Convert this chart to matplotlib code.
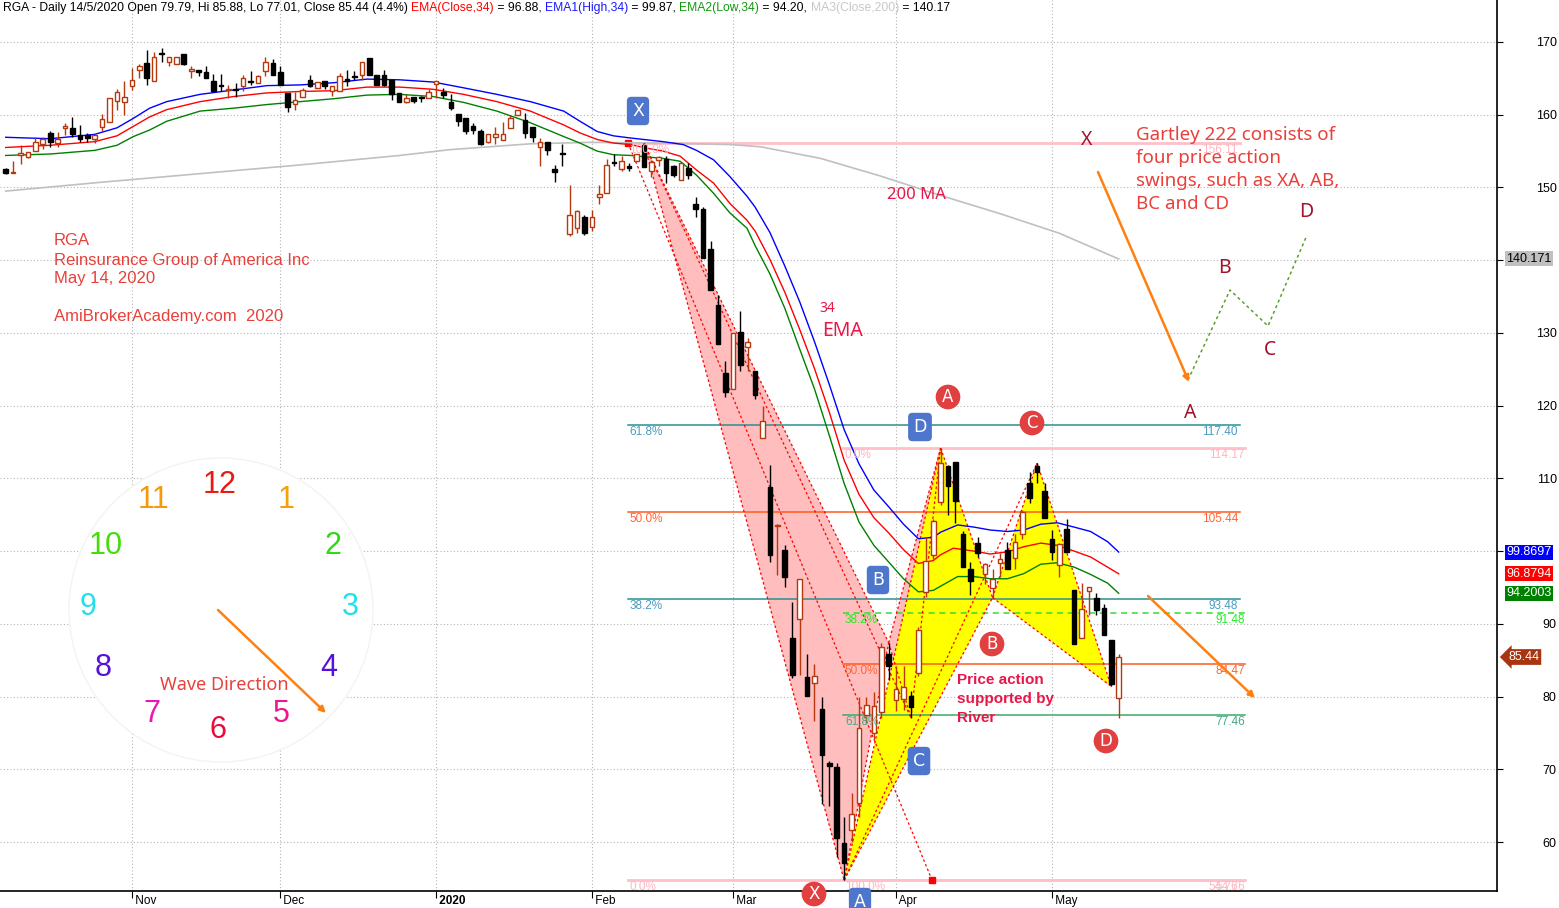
import numpy as np
import pandas as pd
import matplotlib
matplotlib.use("Agg")
import matplotlib.pyplot as plt
from matplotlib import font_manager
from matplotlib.patches import Polygon, Ellipse
from matplotlib.transforms import blended_transform_factory

# ---------------- data ----------------
holidays = ["2019-11-28", "2019-12-25", "2020-01-01", "2020-01-20", "2020-02-17", "2020-04-10"]
dates = pd.bdate_range("2019-10-09", "2020-05-14").drop(pd.to_datetime(holidays))

opens = [152.5, 152.0, 154.4, 154.2, 155.0, 156.0, 157.5, 156.1, 158.2, 158.2,
         157.2, 157.2, 156.7, 158.3, 159.0, 161.9, 161.7, 164.0, 166.2, 167.1,
         164.7, 168.4, 167.2, 167.0, 168.3, 166.0, 166.2, 165.9, 164.7, 164.1,
         163.4, 163.45, 164.0, 164.55, 164.4, 166.0, 167.1, 165.9, 163.0, 161.5,
         162.5, 164.8, 163.7, 164.6, 163.3, 163.3, 164.75, 165.3, 165.5, 167.8,
         165.5, 165.4, 164.8, 163.0, 161.8, 162.5, 162.35, 162.3, 164.2, 163.1,
         161.7, 160.1, 159.5, 158.5, 157.8, 156.3, 157.0, 156.5, 158.2, 159.9,
         159.3, 158.3, 155.6, 156.2, 152.6, 154.65, 143.6, 144.4, 145.9, 144.6,
         148.7, 149.3, 153.45, 152.5, 153.0, 153.6, 155.8, 152.2, 153.8, 153.9,
         153.0, 151.0, 152.7, 147.7, 147.1, 141.6, 133.8, 124.5, 122.3, 130.1,
         128.0, 124.8, 115.5, 108.8, 103.5, 100.2, 88.0, 90.6, 82.7, 81.9,
         78.3, 70.8, 70.3, 59.8, 61.7, 65.3, 77.4, 75.0, 77.9, 85.8,
         79.5, 79.7, 80.1, 83.3, 94.4, 99.4, 106.8, 111.7, 112.2, 102.3,
         97.5, 101.1, 96.9, 94.9, 98.3, 100.2, 99.0, 102.3, 109.3, 111.7,
         108.3, 101.6, 98.1, 103.1, 94.6, 88.1, 94.5, 93.6, 92.2, 87.8, 79.79]
highs = [152.7, 153.7, 155.9, 154.9, 156.9, 156.9, 157.8, 157.6, 158.8, 159.7,
         158.6, 157.5, 157.2, 160.1, 162.3, 163.5, 164.7, 166.4, 167.0, 168.9,
         168.6, 169.2, 167.9, 168.0, 168.3, 166.7, 166.2, 166.7, 165.6, 165.6,
         164.1, 164.3, 165.5, 166.0, 165.5, 167.9, 167.6, 166.7, 163.0, 163.1,
         163.7, 165.4, 164.5, 164.6, 164.0, 165.7, 166.1, 166.0, 167.3, 167.8,
         165.5, 166.2, 164.8, 163.0, 162.8, 162.5, 162.6, 163.6, 164.6, 163.7,
         162.8, 160.1, 159.5, 158.8, 158.1, 157.3, 158.3, 159.0, 160.0, 160.6,
         160.2, 158.3, 156.8, 156.2, 153.1, 156.0, 150.4, 146.9, 146.2, 146.9,
         150.4, 153.9, 154.6, 154.3, 153.4, 154.6, 156.11, 153.8, 154.3, 154.3,
         153.1, 153.3, 153.4, 148.7, 147.3, 142.7, 135.2, 126.2, 130.0, 133.0,
         129.3, 124.8, 119.9, 111.8, 103.7, 100.8, 93.0, 96.2, 85.8, 84.5,
         80.0, 71.2, 70.9, 63.4, 66.7, 80.0, 80.0, 80.6, 87.3, 87.4,
         84.2, 84.2, 80.8, 89.6, 102.0, 104.4, 114.17, 111.8, 112.2, 102.7,
         98.5, 102.0, 98.4, 97.6, 99.7, 101.3, 102.4, 105.6, 110.9, 112.1,
         109.3, 102.9, 101.1, 104.4, 94.7, 95.6, 95.0, 94.2, 92.7, 87.8, 85.88]
lows = [151.9, 152.0, 153.2, 154.0, 155.0, 155.3, 155.5, 155.6, 157.2, 157.0,
        156.3, 156.2, 156.1, 157.8, 159.0, 160.6, 159.9, 163.4, 165.1, 164.1,
        164.7, 167.3, 166.7, 167.0, 166.9, 165.0, 165.3, 165.0, 163.1, 163.2,
        162.3, 162.5, 163.2, 164.1, 164.4, 165.3, 165.4, 164.1, 160.4, 160.6,
        162.4, 163.8, 163.7, 163.5, 162.6, 163.3, 163.9, 164.8, 164.8, 165.5,
        164.1, 164.0, 162.0, 161.7, 161.6, 161.6, 161.8, 162.3, 162.3, 162.3,
        160.6, 158.4, 157.4, 157.4, 155.9, 156.1, 156.0, 156.5, 158.2, 159.9,
        156.8, 156.3, 153.0, 154.5, 150.8, 152.9, 143.3, 143.8, 143.5, 144.0,
        147.7, 149.3, 152.9, 152.2, 152.2, 153.6, 152.8, 151.5, 152.9, 150.6,
        151.5, 151.0, 151.2, 146.0, 140.3, 135.9, 128.5, 121.2, 122.3, 124.8,
        124.8, 120.9, 115.5, 98.5, 96.7, 95.0, 82.5, 83.0, 80.1, 76.7,
        65.2, 65.0, 57.9, 54.76, 60.0, 63.4, 76.3, 74.2, 77.1, 82.3,
        78.0, 78.2, 77.1, 82.8, 93.7, 98.9, 106.3, 105.0, 103.8, 97.8,
        93.9, 99.2, 95.5, 93.6, 96.5, 97.5, 97.5, 101.7, 106.6, 109.3,
        104.6, 98.8, 96.4, 99.9, 87.2, 88.1, 91.2, 91.2, 88.5, 81.4, 77.01]
closes = [152.0, 152.1, 154.7, 154.9, 156.3, 156.7, 156.3, 156.7, 158.5, 157.4,
          156.7, 156.8, 157.2, 159.4, 162.3, 163.1, 162.4, 164.8, 166.7, 165.1,
          167.9, 168.35, 167.9, 168.0, 167.0, 166.3, 165.9, 165.0, 163.2, 163.9,
          163.5, 163.4, 165.0, 164.5, 165.3, 167.2, 165.4, 164.1, 161.1, 162.0,
          163.4, 164.0, 164.5, 164.0, 164.0, 165.3, 164.7, 165.2, 167.3, 165.5,
          164.1, 164.1, 162.8, 161.7, 162.3, 161.9, 162.3, 163.1, 164.6, 162.7,
          160.9, 159.1, 157.8, 157.9, 156.0, 157.3, 157.3, 157.3, 159.5, 160.6,
          157.5, 156.9, 156.2, 155.1, 152.1, 154.6, 146.2, 146.7, 143.8, 145.9,
          149.1, 153.1, 153.4, 153.6, 152.7, 154.6, 152.8, 153.5, 154.2, 152.0,
          151.7, 153.3, 151.7, 147.0, 140.3, 135.9, 128.5, 121.9, 130.0, 125.6,
          128.8, 121.5, 117.9, 99.5, 103.6, 96.5, 83.0, 96.2, 80.1, 82.8,
          71.9, 70.4, 60.5, 57.1, 63.9, 75.7, 78.9, 78.7, 86.8, 84.2,
          81.0, 81.3, 78.5, 89.1, 98.7, 104.1, 112.1, 108.9, 106.9, 97.8,
          95.9, 99.8, 98.2, 96.2, 98.9, 97.6, 101.2, 105.4, 107.3, 110.9,
          104.6, 99.9, 101.0, 99.9, 87.2, 92.0, 95.0, 91.9, 88.5, 81.7, 85.44]

# indicator lines (bar number, value)
ema_high_x = [0, 6, 12, 15, 17.2, 19.4, 21.7, 26.2, 30.7, 35.2, 39.7, 44.2, 48.7, 53.1, 57.6,
              61.7, 66.2, 70.7, 75.2, 77.4, 79.7, 81.9, 84.2, 88.6, 91.3, 93.1, 95.4, 97.6, 99.9,
              101, 103, 105, 107, 109, 111, 113, 115, 117, 119, 121, 123, 125, 126,
              128.3, 130.5, 132.7, 135, 137.2, 139.5, 141.7, 144, 146.2, 148.5, 150]
ema_high_y = [156.9, 156.7, 157.3, 158.2, 159.5, 160.9, 161.8, 162.8, 163.4, 164.0, 164.1, 164.4, 164.9, 164.8, 164.5,
              163.7, 162.8, 161.8, 160.5, 159.1, 157.7, 157.1, 156.8, 156.3, 155.9, 155.1, 153.8, 151.5, 148.8,
              147.3, 143.8, 139.2, 134.3, 128.8, 122.9, 116.7, 112.0, 108.4, 106.1, 103.7, 101.7, 101.9, 102.6,
              103.6, 103.3, 102.9, 102.7, 102.9, 103.7, 103.9, 103.3, 102.7, 101.3, 99.87]
ema_close_x = [0, 6, 12, 15, 17.2, 19.4, 21.7, 26.2, 30.7, 35.2, 39.7, 44.2, 48.7, 53.1, 57.6,
               61.7, 66.2, 70.7, 75.2, 77.4, 79.7, 81.9, 84.2, 86.4, 88.6, 90.9, 93.1, 95.4, 97.6, 99.9,
               101, 103, 105, 107, 109, 111, 113, 115, 117, 119, 121, 123, 125, 126,
               127.7, 130.5, 132.7, 135, 137.2, 139.5, 141.7, 144, 146.2, 148.5, 150]
ema_close_y = [155.5, 155.8, 156.3, 157.1, 158.4, 159.7, 160.7, 161.8, 162.5, 163.0, 163.2, 163.3, 163.8, 163.8, 163.5,
               162.8, 161.8, 160.5, 158.6, 157.5, 156.6, 156.1, 155.9, 155.4, 155.0, 154.3, 152.4, 150.6, 147.8, 145.5,
               144.0, 140.1, 135.6, 130.5, 125.1, 119.1, 112.5, 107.8, 104.6, 102.5, 100.2, 98.3, 98.7, 99.5,
               100.4, 100.0, 99.6, 99.9, 100.6, 101.1, 100.8, 100.0, 99.2, 97.8, 96.88]
ema_low_x = [0, 6, 12, 15, 17.2, 19.4, 21.7, 26.2, 30.7, 35.2, 39.7, 44.2, 48.7, 53.1, 57.6,
             61.7, 66.2, 70.7, 75.2, 77.4, 79.7, 81.9, 84.2, 88.6, 90.9, 93.1, 95.4, 97.6, 99.9,
             101, 103, 105, 107, 109, 111, 113, 115, 117, 119, 121, 123, 125,
             128.3, 130.5, 132.7, 135, 137.2, 139.5, 141.7, 144, 146.2, 148.5, 150]
ema_low_y = [154.4, 154.6, 155.1, 155.8, 157.0, 157.9, 159.1, 160.5, 160.9, 161.4, 161.8, 162.2, 162.7, 162.8, 162.5,
             161.7, 160.5, 158.9, 157.0, 156.1, 155.0, 154.5, 154.4, 154.0, 153.6, 151.7, 149.2, 146.5, 144.4,
             142.0, 138.1, 133.4, 127.8, 122.3, 115.9, 109.3, 104.0, 100.8, 98.5, 96.2, 94.4, 94.6,
             96.5, 96.5, 96.2, 96.2, 96.9, 98.2, 98.4, 97.8, 96.8, 95.6, 94.20]
ma200_x = [0, 12.7, 26.2, 39.7, 53.1, 59.9, 70.7, 78.7, 88.6, 97.6, 101.7, 109.8, 117.8, 126, 134, 142, 150]
ma200_y = [149.5, 150.7, 151.9, 153.1, 154.4, 155.2, 156.0, 156.2, 156.1, 155.9, 155.6, 154.0, 151.6, 148.9, 146.4, 143.7, 140.17]

# harmonic pattern turning points (bar numbers)
bear_bars = [86, 113, 119, 122, 126]     # X A B C D (blue)
bull_bars = [113, 126, 133, 139, 149]    # X A B C D (red)

fib1_levels = [156.11, 117.40, 105.44, 93.48, 54.76]
fib1_pcts = ["100.0%", "61.8%", "50.0%", "38.2%", "0.0%"]
fib2_levels = [114.17, 91.48, 84.47, 77.46, 54.76]
fib2_pcts = ["0.0%", "38.2%", "50.0%", "61.8%", "100.0%"]

# ---------------- figure ----------------
W, H = 1559, 908
names = {f.name for f in font_manager.fontManager.ttflist}
NARROW = "Liberation Sans Narrow" if "Liberation Sans Narrow" in names else "Liberation Sans"
ARIAL = "Liberation Sans"
HAND = "Noto Sans"

fig = plt.figure(figsize=(W / 100, H / 100), dpi=100)
ax = fig.add_axes([0, 17 / H, 1497 / W, 891 / H])
r = fig.canvas.get_renderer()


def px(x, y):
    # reference pixel position -> data position
    return (x - 5.7) / 7.42, 170 - (y - 42) / 7.273


ax.set_xlim(px(0, 0)[0], px(1497, 0)[0])
ax.set_ylim(px(0, 891)[1], px(0, 0)[1])
for s in ("top", "left"):
    ax.spines[s].set_visible(False)
ax.spines["right"].set_linewidth(1.2)
ax.spines["bottom"].set_linewidth(1.2)

# axes ticks
yt = np.arange(60, 171, 10)
ax.yaxis.tick_right()
ax.set_yticks(yt)
ax.set_yticklabels(["" if v in (100, 140) else str(v) for v in yt])  # hidden under the value tags
ax.tick_params(axis="y", length=4, pad=39, labelsize=9)
for t in ax.get_yticklabels():
    t.set_ha("right")
    t.set_family(ARIAL)

months = pd.Series(dates.to_period("M"))
first = np.nonzero(months.ne(months.shift()).to_numpy())[0][1:]
ax.set_xticks(first)
ax.set_xticklabels([" 2020" if dates[i].month == 1 else " " + dates[i].strftime("%b") for i in first])
ax.tick_params(axis="x", length=5, pad=-1.8, labelsize=8.5)
for t in ax.get_xticklabels():
    t.set_ha("left")
    t.set_family(NARROW)
    if t.get_text() == " 2020":
        t.set_fontweight("bold")

ax.set_axisbelow(True)
ax.grid(True, color="#b4b4b4", linestyle=(0, (1, 2)), linewidth=0.8)

# clock face
cx, cy = px(221, 610)
ax.add_patch(Ellipse((cx, cy), 304 / 7.42, 304 / 7.273, fc="white", ec="#f3f3f3", lw=1, zorder=1))

# fibonacci levels
fib1_cols = ["#ffc0cb", "#2b9090", "#ff5a1f", "#2b9090", "#ffc0cb"]
fib1_txt = ["#ffb6c1", "#4a9cc0", "#ff6633", "#4a9cc0", "#ffb6c1"]
fib2_cols = ["#ffc0cb", "#33dd33", "#ff5a1f", "#3aaa6a", "#ffc0cb"]
fib2_txt = ["#ffb6c1", "#22ee22", "#ff6633", "#44aa88", "#ffb6c1"]
fib2_ls = ["-", (0, (4, 3)), "-", "-", "-"]
f1_start, f1_end = px(628, 0)[0], px(1240, 0)[0]
f2_start, f2_end = bear_bars[1] - 0.1, px(1245, 0)[0]
lab_off = 7 / 7.273
for lv, pc, lc, tc in zip(fib1_levels, fib1_pcts, fib1_cols, fib1_txt):
    lw = 2 if lc == "#ffc0cb" else 1.1
    ax.plot([f1_start, f1_end], [lv, lv], color=lc, lw=lw, zorder=2.5)
    ax.text(f1_start + 0.2, lv - lab_off, pc, color=tc, fontsize=8.5, family=ARIAL, va="center", zorder=7)
    ax.text(px(1238, 0)[0], lv - lab_off, f"{lv:.2f}", color=tc, fontsize=8.5, family=ARIAL,
            ha="right", va="center", zorder=7)
for lv, pc, lc, tc, ls in zip(fib2_levels, fib2_pcts, fib2_cols, fib2_txt, fib2_ls):
    lw = 2 if lc == "#ffc0cb" else 1.1
    ax.plot([f2_start, f2_end], [lv, lv], color=lc, lw=lw, ls=ls, zorder=2.5)
    ax.text(f2_start + 0.2, lv - lab_off, pc, color=tc, fontsize=8.5, family=ARIAL, va="center", zorder=7)
    ax.text(px(1245, 0)[0], lv - lab_off, f"{lv:.2f}", color=tc, fontsize=8.5, family=ARIAL,
            ha="right", va="center", zorder=7)

h = np.array(highs)
l = np.array(lows)
bear = [(bear_bars[0], h[bear_bars[0]]), (bear_bars[1], l[bear_bars[1]]), (bear_bars[2], h[bear_bars[2]]),
        (bear_bars[3], l[bear_bars[3]]), (bear_bars[4], h[bear_bars[4]])]
bull = [(bull_bars[0], l[bull_bars[0]]), (bull_bars[1], h[bull_bars[1]]), (bull_bars[2], l[bull_bars[2]]),
        (bull_bars[3], h[bull_bars[3]]), (bull_bars[4], l[bull_bars[4]])]


def draw_pattern(p, fill):
    X, A, B, C, D = p
    ax.add_patch(Polygon([X, A, B], closed=True, fc=fill, ec="none", zorder=2))
    ax.add_patch(Polygon([B, C, D], closed=True, fc=fill, ec="none", zorder=2))
    for a, b in [(X, A), (A, B), (X, B), (B, C), (C, D), (B, D), (X, C)]:
        ax.plot([a[0], b[0]], [a[1], b[1]], color="red", lw=0.9, ls=(0, (2, 2)), zorder=2.6)


draw_pattern(bear, "#ffbdbd")
draw_pattern(bull, "#ffff00")

# projection line with end markers
p0, p1 = px(628, 143), px(932, 880)
ax.plot([p0[0], p1[0]], [p0[1], p1[1]], color="red", lw=0.9, ls=(0, (2, 2)), zorder=2.6)
ax.plot([p0[0], p1[0]], [p0[1], p1[1]], ls="none", marker="s", ms=5, color="red", zorder=3)

# moving averages
ax.plot(ma200_x, ma200_y, color="#c0c0c0", lw=1.2, zorder=3)
ax.plot(ema_high_x, ema_high_y, color="#0000ff", lw=1, zorder=3)
ax.plot(ema_close_x, ema_close_y, color="#ff0000", lw=1, zorder=3)
ax.plot(ema_low_x, ema_low_y, color="#008000", lw=1, zorder=3)

# candles
o = np.array(opens)
c = np.array(closes)
idx = np.arange(len(c))
up = c >= o
UP = "#b5380e"
edge = np.where(up, UP, "black")
ax.vlines(idx, l, h, colors=edge, lw=1, zorder=5)
ax.bar(idx, np.maximum(np.abs(c - o), 0.15), bottom=np.minimum(o, c), width=0.62,
       color=np.where(up, "white", "black"), edgecolor=edge, linewidth=1, zorder=6)

# ---------------- annotations ----------------
RED = "#e8403a"
CRIM = "#e8174a"
for txt, y in [("RGA", 241), ("Reinsurance Group of America Inc", 260), ("May 14, 2020", 279),
               ("AmiBrokerAcademy.com  2020", 317)]:
    ax.text(*px(54, y), txt, color=RED, fontsize=12, family=ARIAL, va="center", zorder=8)

clock = [("12", 220, 485, "#ea1a12"), ("11", 153, 500, "#f59a0a"), ("1", 286, 500, "#f5a00a"),
         ("10", 106, 546, "#44dd0a"), ("2", 333, 546, "#33d818"), ("9", 88, 607, "#20e0e8"),
         ("3", 350, 607, "#20e0e8"), ("8", 103, 668, "#5512d8"), ("4", 329, 668, "#5512d8"),
         ("7", 152, 714, "#ee16b0"), ("5", 281, 714, "#ee1690"), ("6", 218, 730, "#ea0a3a")]
for s, x, y, col in clock:
    ax.text(*px(x, y), s, color=col, fontsize=22, family=ARIAL, ha="center", va="center", zorder=8)
ax.text(*px(224, 685), "Wave Direction", color=RED, fontsize=13, family=HAND, ha="center", va="center", zorder=8)


def arrow(x0, y0, x1, y1, lw=1.8):
    ax.annotate("", xy=px(x1, y1), xytext=px(x0, y0),
                arrowprops=dict(arrowstyle="-|>", color="#ff8010", lw=lw, mutation_scale=9,
                                shrinkA=0, shrinkB=0), zorder=8)


arrow(218, 610, 326, 713)
arrow(1148, 596, 1255, 698)
arrow(1098, 172, 1189, 382)

ax.text(*px(827, 308), "34", color=CRIM, fontsize=10, family=HAND, fontweight="bold", ha="center", va="center", zorder=8)
ax.text(*px(842, 331), "EMA", color=CRIM, fontsize=14, family=HAND, ha="center", va="center", zorder=8)
ax.text(*px(916, 195), "200 MA", color=CRIM, fontsize=12, family=HAND, fontweight="bold", ha="center", va="center", zorder=8)
for txt, y in [("Price action", 680), ("supported by", 699), ("River", 718)]:
    ax.text(*px(957, y), txt, color=CRIM, fontsize=11, family=ARIAL, fontweight="bold", va="center", zorder=8)
for txt, y in [("Gartley 222 consists of", 135), ("four price action", 158),
               ("swings, such as XA, AB,", 181), ("BC and CD", 204)]:
    ax.text(*px(1136, y), txt, color=RED, fontsize=13.5, family=HAND, va="center", zorder=8)

# schematic XABCD
DR = "#a3122c"
sch_x = [1188, 1230, 1268, 1307]
sch_y = [380, 290, 326, 235]
pts = [px(a, b) for a, b in zip(sch_x, sch_y)]
ax.plot([p[0] for p in pts], [p[1] for p in pts], color="#5aa02c", lw=1.1, ls=(0, (2, 2)), zorder=7)
for s, x, y in [("X", 1087, 140), ("A", 1190, 413), ("B", 1224, 268), ("C", 1270, 350), ("D", 1306, 212)]:
    ax.text(*px(x, y), s, color=DR, fontsize=14, family=HAND, ha="center", va="center", zorder=8)

# pattern point labels
for s, x, y in [("X", 638, 111), ("D", 920, 427), ("B", 878, 580), ("C", 919, 761), ("A", 860, 902)]:
    ax.text(*px(x, y), s, ha="center", va="center", color="white", fontsize=12.5, family="DejaVu Sans",
            zorder=9, clip_on=False,
            bbox=dict(boxstyle="round,pad=0.3,rounding_size=0.25", fc="#4d76cc", ec="none"))
for s, x, y in [("A", 948, 397), ("C", 1032, 423), ("B", 992, 644), ("D", 1106, 741), ("X", 814, 894)]:
    ax.text(*px(x, y), s, ha="center", va="center", color="white", fontsize=12, family="DejaVu Sans",
            zorder=9, clip_on=False, bbox=dict(boxstyle="circle,pad=0.2", fc="#e0403f", ec="none"))

# price tags on the right axis
trans = blended_transform_factory(ax.transAxes, ax.transData)
tags = [(140.171, "140.171", "#c0c0c0", "black"), (99.8697, "99.8697", "#0000ff", "white"),
        (96.8794, "96.8794", "#ff0000", "white"), (94.2003, "94.2003", "#008000", "white")]
for v, s, bg, fg in tags:
    ax.text(1.0063, v, s, transform=trans, ha="left", va="center", color=fg, fontsize=9, family=ARIAL,
            clip_on=False, zorder=9, bbox=dict(boxstyle="square,pad=0.12", fc=bg, ec="none"))
ax.text(1.0075, closes[-1], f"{closes[-1]:.2f}", transform=trans, ha="left", va="center", color="white",
        fontsize=9, family=ARIAL, clip_on=False, zorder=9,
        bbox=dict(boxstyle="larrow,pad=0.15", fc="#a83410", ec="none"))

# header line, several colours; size fitted to the reference width
parts = [("RGA - Daily 14/5/2020 Open 79.79, Hi 85.88, Lo 77.01, Close 85.44 (4.4%) ", "black"),
         ("EMA(Close,34)", "#ff0000"), (" = 96.88, ", "black"), ("EMA1(High,34)", "#1a1aff"),
         (" = 99.87, ", "black"), ("EMA2(Low,34)", "#119911"), (" = 94.20, ", "black"),
         ("MA3(Close,200)", "#c8c8c8"), (" = 140.17", "black")]


def header(size):
    xpos = 3 / W
    made = []
    for s, col in parts:
        t = fig.text(xpos, 1 - 8 / H, s, color=col, fontsize=size, family=NARROW, va="center")
        made.append(t)
        xpos = t.get_window_extent(renderer=r).x1 / W
    return made, xpos * W


made, right = header(9.5)
for t in made:
    t.remove()
header(9.5 * 942 / (right - 3))

fig.savefig("out.png", dpi=100)
